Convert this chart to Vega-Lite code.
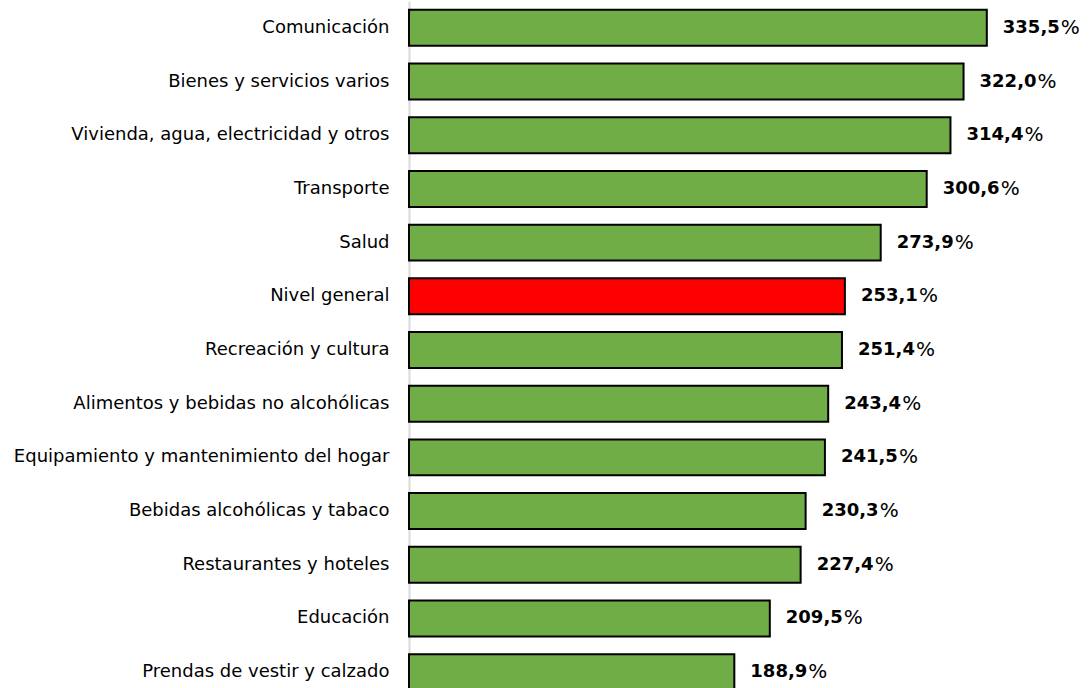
{
  "$schema": "https://vega.github.io/schema/vega-lite/v6.json",
  "width": 682,
  "height": 698,
  "autosize": {"type": "none"},
  "padding": {"left": 409, "top": 1, "right": 0, "bottom": 0},
  "config": {"view": {"stroke": null}, "font": "DejaVu Sans"},
  "data": {
    "values": [
      {"cat": "Comunicación", "value": 335.5, "num": "335,5", "tipo": "otro"},
      {"cat": "Bienes y servicios varios", "value": 322.0, "num": "322,0", "tipo": "otro"},
      {"cat": "Vivienda, agua, electricidad y otros", "value": 314.4, "num": "314,4", "tipo": "otro"},
      {"cat": "Transporte", "value": 300.6, "num": "300,6", "tipo": "otro"},
      {"cat": "Salud", "value": 273.9, "num": "273,9", "tipo": "otro"},
      {"cat": "Nivel general", "value": 253.1, "num": "253,1", "tipo": "general"},
      {"cat": "Recreación y cultura", "value": 251.4, "num": "251,4", "tipo": "otro"},
      {"cat": "Alimentos y bebidas no alcohólicas", "value": 243.4, "num": "243,4", "tipo": "otro"},
      {"cat": "Equipamiento y mantenimiento del hogar", "value": 241.5, "num": "241,5", "tipo": "otro"},
      {"cat": "Bebidas alcohólicas y tabaco", "value": 230.3, "num": "230,3", "tipo": "otro"},
      {"cat": "Restaurantes y hoteles", "value": 227.4, "num": "227,4", "tipo": "otro"},
      {"cat": "Educación", "value": 209.5, "num": "209,5", "tipo": "otro"},
      {"cat": "Prendas de vestir y calzado", "value": 188.9, "num": "188,9", "tipo": "otro"}
    ]
  },
  "encoding": {
    "y": {
      "field": "cat",
      "type": "nominal",
      "sort": null,
      "scale": {"paddingInner": 0.33, "paddingOuter": 0.165},
      "axis": {
        "title": null,
        "ticks": false,
        "labelFontSize": 18,
        "labelColor": "#000000",
        "labelPadding": 20,
        "labelLimit": 500,
        "domainColor": "#d9d9d9",
        "domainWidth": 2
      }
    },
    "x": {
      "field": "value",
      "type": "quantitative",
      "scale": {"domain": [0, 396]},
      "axis": null
    }
  },
  "layer": [
    {
      "mark": {"type": "bar", "stroke": "#000000", "strokeWidth": 2},
      "encoding": {
        "color": {
          "field": "tipo",
          "type": "nominal",
          "scale": {"domain": ["general", "otro"], "range": ["#ff0000", "#70ad47"]},
          "legend": null
        }
      }
    },
    {
      "mark": {"type": "text", "align": "left", "baseline": "middle", "dx": 16, "fontWeight": "bold", "fontSize": 18, "color": "#000000"},
      "encoding": {"text": {"field": "num"}}
    },
    {
      "mark": {"type": "text", "align": "left", "baseline": "middle", "dx": 74, "fontSize": 20, "color": "#000000"},
      "encoding": {"text": {"value": "%"}}
    }
  ]
}
